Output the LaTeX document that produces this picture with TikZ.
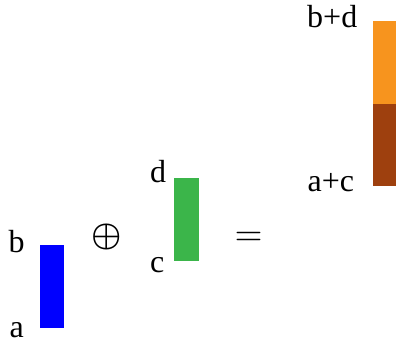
\documentclass[tikz,border=0pt]{standalone}
\usepackage{bm}
\usepackage{fontspec}
\setmainfont{Liberation Serif}
\definecolor{barblue}{RGB}{0,0,255}
\definecolor{bargreen}{RGB}{59,181,74}
\definecolor{barorange}{RGB}{247,148,30}
\definecolor{barbrown}{RGB}{158,64,14}
\begin{document}
\begin{tikzpicture}[
  x=1pt, y=-1pt,
  lbl/.style={font=\fontsize{32}{38}\selectfont, inner sep=0pt, text depth=0pt, anchor=base west},
  op/.style={inner sep=0pt, anchor=base},
  bar/.style={inner sep=0pt, outer sep=0pt, minimum width=24pt, anchor=north west}
]
\useasboundingbox (0,0) rectangle (396,341);
% first bar
\node[bar, fill=barblue, minimum height=83pt] (ab) at (40,245) {};
\node[lbl] (b) at (8.5,252) {b};
\node[lbl] (a) at (9.5,337) {a};
\node[op, scale=3.4] (plus) at (107,245) {$\bm{\oplus}$};
% second bar
\node[bar, fill=bargreen, minimum width=25pt, minimum height=83pt] (cd) at (174,178) {};
\node[lbl] (d) at (150,182) {d};
\node[lbl] (c) at (150,272) {c};
\node[op, scale=3.6] (eq) at (248.5,245) {$=$};
% sum bar
\node[bar, fill=barorange, minimum width=23pt, minimum height=83pt] (bd) at (373,21) {};
\node[bar, fill=barbrown, minimum width=23pt, minimum height=82pt] (ac) at (373,104) {};
\node[lbl] (bdl) at (307,27) {b+d};
\node[lbl] (acl) at (307.5,191) {a+c};
\end{tikzpicture}
\end{document}
